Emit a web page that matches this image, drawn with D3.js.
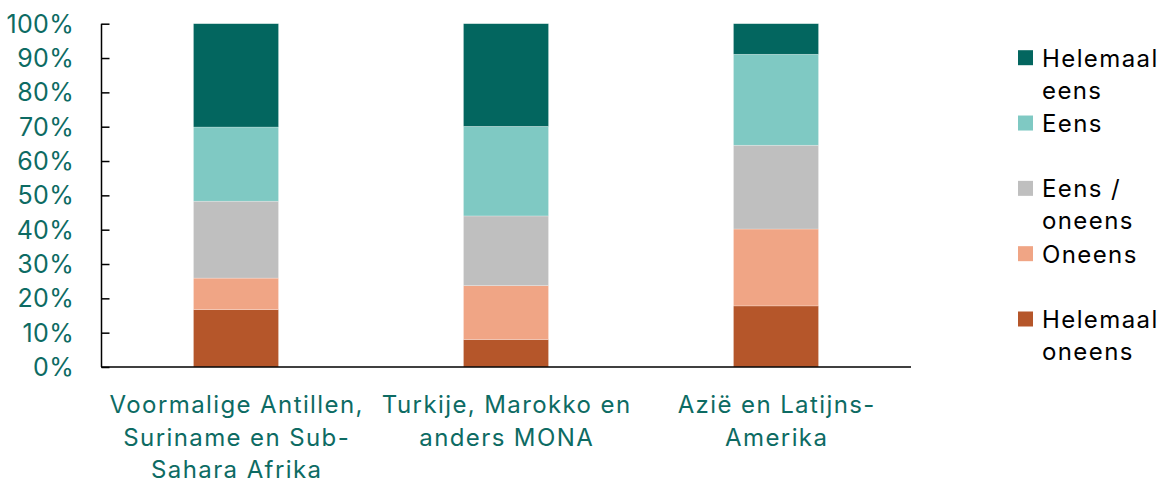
<!DOCTYPE html>
<html>
<head>
<meta charset="utf-8">
<script src="https://cdn.jsdelivr.net/npm/d3@7"></script>
<style>
  body { margin: 0; background: #fff; }
  svg text { font-family: Inter, "Noto Sans", sans-serif; }
</style>
</head>
<body>
<svg width="1165" height="483"></svg>
<script>
// categories and answers
var groups = [
  ["Voormalige Antillen,", "Suriname en Sub-", "Sahara Afrika"],
  ["Turkije, Marokko en", "anders MONA"],
  ["Azië en Latijns-", "Amerika"]
];
var answers = ["Helemaal oneens", "Oneens", "Eens / oneens", "Eens", "Helemaal eens"];
var legendLabels = [["Helemaal", "eens"], ["Eens"], ["Eens /", "oneens"], ["Oneens"], ["Helemaal", "oneens"]];
var colors = ["#b5562a", "#f0a585", "#bfbfbf", "#7fc9c3", "#03665f"];

// percentages per answer (same order as groups)
var helemaalOneens = [16.7, 8.0, 17.8];
var oneens         = [9.2, 15.7, 22.4];
var eensOneens     = [22.4, 20.3, 24.4];
var eens           = [21.6, 26.1, 26.5];
var helemaalEens   = [30.1, 29.9, 8.9];

var yTicks = [0, 10, 20, 30, 40, 50, 60, 70, 80, 90, 100];

var series = [helemaalOneens, oneens, eensOneens, eens, helemaalEens];
var rows = groups.map(function(g, i) {
  var r = { idx: i };
  answers.forEach(function(a, j) { r[a] = series[j][i]; });
  return r;
});

var svg = d3.select("svg");
var teal = "#0d6b63";

var x = d3.scaleBand()
    .domain(d3.range(groups.length))
    .range([101, 911])
    .paddingInner(0.685)
    .paddingOuter(0.3425);

var y = d3.scaleLinear().domain([0, 100]).range([367, 23.7]);

var stack = d3.stack().keys(answers);
var stacked = stack(rows);

var layer = svg.selectAll(".layer")
    .data(stacked)
    .enter().append("g")
    .attr("class", "layer")
    .attr("fill", function(d, i) { return colors[i]; });

layer.selectAll("rect")
    .data(function(d) { return d; })
    .enter().append("rect")
    .attr("x", function(d) { return x(d.data.idx); })
    .attr("width", x.bandwidth())
    .attr("y", function(d) { return y(d[1]); })
    .attr("height", function(d) { return y(d[0]) - y(d[1]); })
    .attr("stroke", "#ffffff")
    .attr("stroke-opacity", 0.4)
    .attr("stroke-width", 0.6);

// y axis
var yAxis = d3.axisRight(y)
    .tickValues(yTicks)
    .tickSize(8)
    .tickFormat("");
var yg = svg.append("g")
    .attr("transform", "translate(101.5,0)")
    .call(yAxis);
yg.select(".domain").remove();
yg.selectAll(".tick line").attr("stroke", "#000").attr("stroke-width", 1.5);

svg.append("line")
    .attr("x1", 101.5).attr("x2", 101.5)
    .attr("y1", y(100)).attr("y2", y(0))
    .attr("stroke", "#000").attr("stroke-width", 1.5);

svg.append("line")
    .attr("x1", 101).attr("x2", 911)
    .attr("y1", y(0)).attr("y2", y(0))
    .attr("stroke", "#000").attr("stroke-width", 1.5);

svg.append("g").selectAll("text")
    .data(yTicks)
    .enter().append("text")
    .attr("x", 74)
    .attr("y", function(d) { return y(d); })
    .attr("dy", "0.36em")
    .attr("text-anchor", "end")
    .attr("fill", teal)
    .style("font-size", "25px")
    .style("letter-spacing", "0.3px")
    .text(function(d) { return d + "%"; });

// x labels
var xl = svg.append("g").selectAll("text")
    .data(groups)
    .enter().append("text")
    .attr("text-anchor", "middle")
    .attr("fill", teal)
    .style("font-size", "24px")
    .style("letter-spacing", "1.4px")
    .attr("transform", function(d, i) { return "translate(" + (x(i) + x.bandwidth() / 2 + 0.7) + ",413)"; });
xl.selectAll("tspan")
    .data(function(d) { return d; })
    .enter().append("tspan")
    .attr("x", 0)
    .attr("y", function(d, i) { return i * 32.5; })
    .text(function(d) { return d; });

// legend
var ly = d3.scalePoint().domain(d3.range(legendLabels.length)).range([66.7, 328]);
var legendColors = colors.slice().reverse();
var lg = svg.append("g").selectAll("g")
    .data(legendLabels)
    .enter().append("g")
    .attr("transform", function(d, i) { return "translate(1018," + ly(i) + ")"; });
lg.append("rect")
    .attr("x", 0).attr("y", -16.5)
    .attr("width", 15).attr("height", 15)
    .attr("fill", function(d, i) { return legendColors[i]; });
var lt = lg.append("text")
    .attr("x", 24)
    .attr("fill", "#000")
    .style("font-size", "24px")
    .style("letter-spacing", "1.4px");
lt.selectAll("tspan")
    .data(function(d) { return d; })
    .enter().append("tspan")
    .attr("x", 24)
    .attr("y", function(d, i) { return i * 32; })
    .text(function(d) { return d; });
</script>
</body>
</html>
